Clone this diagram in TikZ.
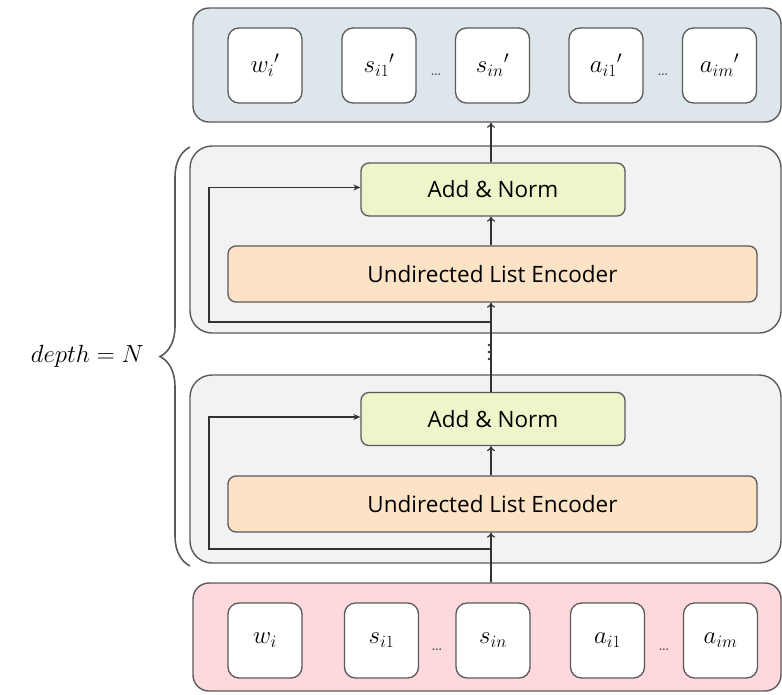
\documentclass[tikz,border=0pt]{standalone}
\usepackage{fontspec}
\setsansfont{Open Sans}
\usetikzlibrary{arrows.meta,decorations.pathreplacing,calc}
\definecolor{bordc}{HTML}{5A5A5A}
\definecolor{outc}{HTML}{DDE7EB}
\definecolor{layc}{HTML}{F2F2F5}
\definecolor{addc}{HTML}{EFF4CB}
\definecolor{ulec}{HTML}{FCE3C5}
\definecolor{inc}{HTML}{FDD8DD}
\tikzset{
  blk/.style={draw=bordc, line width=1.4pt, rounded corners=16pt, inner sep=0pt},
  tok/.style={draw=bordc, line width=1.3pt, fill=white, rounded corners=11pt, minimum width=74pt, minimum height=75pt, inner sep=0pt, font=\fontsize{27}{31}\selectfont},
  addbox/.style={draw=bordc, line width=1.3pt, fill=addc, rounded corners=8pt, minimum width=264pt, minimum height=53pt, inner sep=0pt, font=\sffamily\fontsize{22.5}{26}\selectfont},
  ulebox/.style={draw=bordc, line width=1.3pt, fill=ulec, rounded corners=8pt, minimum width=529pt, minimum height=56pt, inner sep=0pt, font=\sffamily\fontsize{22.5}{26}\selectfont},
  arr/.style={draw=black!80, line width=1.2pt, -{To[length=5pt,width=8pt]}},
  res/.style={draw=black!80, line width=1.2pt, -{Stealth[length=7pt,width=6pt]}},
  dotsn/.style={inner sep=0pt, text=black!80, font=\fontsize{20}{22}\selectfont},
}
\begin{document}
\begin{tikzpicture}[x=1pt,y=-1pt]
\useasboundingbox (0,0) rectangle (782,694);
% output block
\node[blk, fill=outc, minimum width=588pt, minimum height=114pt] (outblk) at (487,65) {};
\node[tok] (o1) at (265,65.5) {$w_i{}'$};
\node[tok] (o2) at (379,65.5) {$s_{i1}{}'$};
\node[tok] (o3) at (492.5,65.5) {$s_{in}{}'$};
\node[tok] (o4) at (606,65.5) {$a_{i1}{}'$};
\node[tok] (o5) at (719.5,65.5) {$a_{im}{}'$};
\node[dotsn] (od1) at (436,75) {\dots};
\node[dotsn] (od2) at (663,75) {\dots};
% upper layer
\node[blk, fill=layc, rounded corners=22pt, minimum width=591pt, minimum height=187pt] (lay1) at (485.5,239.5) {};
\node[addbox] (an1) at (493,189.5) {Add \& Norm};
\node[ulebox] (ule1) at (492.5,274) {Undirected List Encoder};
% lower layer
\node[blk, fill=layc, rounded corners=22pt, minimum width=591pt, minimum height=188pt] (lay2) at (485.5,469) {};
\node[addbox] (an2) at (493,419) {Add \& Norm};
\node[ulebox] (ule2) at (492.5,504) {Undirected List Encoder};
% input block
\node[blk, fill=inc, minimum width=588pt, minimum height=108pt] (inblk) at (487,637) {};
\node[tok] (i1) at (265,640.5) {$w_i$};
\node[tok] (i2) at (381.5,640.5) {$s_{i1}$};
\node[tok] (i3) at (493,640.5) {$s_{in}$};
\node[tok] (i4) at (607.5,640.5) {$a_{i1}$};
\node[tok] (i5) at (720.5,640.5) {$a_{im}$};
\node[dotsn] (id1) at (437,650) {\dots};
\node[dotsn] (id2) at (664,650) {\dots};
% connectors
\coordinate (c0) at (491,583);
\coordinate (r2) at (491,549);
\coordinate (r1) at (491,322);
\draw[arr] (inblk.north -| c0) -- (ule2.south -| c0);
\draw[arr] (ule2.north -| c0) -- (an2.south -| c0);
\draw[arr] (an2.north -| c0) -- (ule1.south -| c0);
\draw[arr] (ule1.north -| c0) -- (an1.south -| c0);
\draw[arr] (an1.north -| c0) -- (outblk.south -| c0);
\draw[res] (r2) -- (209,549) |- ($(an2.west)+(0,-2)$);
\draw[res] (r1) -- (209,322) |- ($(an1.west)+(0,-2)$);
% dots between layers
\foreach \yy in {345,352,359} \fill[black!80] (489,\yy) circle (1.4pt);
% brace
\draw[bordc, line width=1.6pt, decorate, decoration={brace, amplitude=30pt}] (190,566) -- (190,147);
\node[anchor=east, inner sep=0pt, font=\fontsize{29}{33}\selectfont] (dl) at (144,356) {$depth = N$};
\end{tikzpicture}
\end{document}
